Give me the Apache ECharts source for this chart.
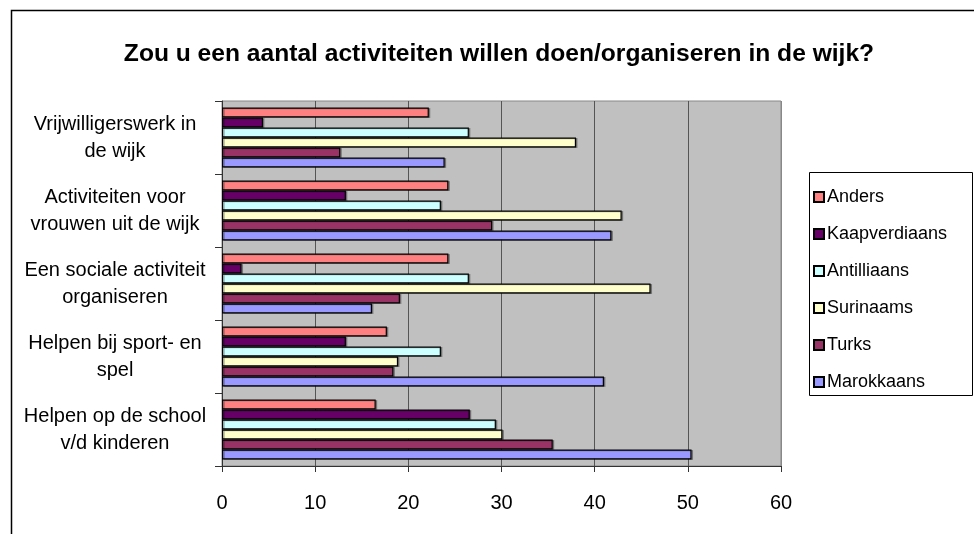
<!DOCTYPE html>
<html>
<head>
<meta charset="utf-8">
<title>Activiteiten in de wijk</title>
<script src="https://cdn.jsdelivr.net/npm/echarts@6/dist/echarts.min.js"></script>
<style>
    html, body { margin: 0; padding: 0; background: #fff; }
    #chart { width: 974px; height: 534px; }
</style>
</head>
<body>
<div id="chart"></div>
<script>
    // categorieen (van boven naar beneden)
    var categories = [
        'Vrijwilligerswerk in\nde wijk',
        'Activiteiten voor\nvrouwen uit de wijk',
        'Een sociale activiteit\norganiseren',
        'Helpen bij sport- en\nspel',
        'Helpen op de school\nv/d kinderen'
    ];
    var anders = [22.2, 24.3, 24.3, 17.7, 16.5];
    var kaapverdiaans = [4.4, 13.3, 2.1, 13.3, 26.6];
    var antilliaans = [26.5, 23.5, 26.5, 23.5, 29.4];
    var surinaams = [38.0, 42.9, 46.0, 18.9, 30.1];
    var turks = [12.7, 29.0, 19.1, 18.4, 35.5];
    var marokkaans = [23.9, 41.8, 16.1, 41.0, 50.4];
    var xTicks = [0, 10, 20, 30, 40, 50, 60];

    var font = "'Liberation Sans', Arial, sans-serif";

    var seriesDefs = [
        { name: 'Anders', data: anders, color: '#FF8080' },
        { name: 'Kaapverdiaans', data: kaapverdiaans, color: '#660066' },
        { name: 'Antilliaans', data: antilliaans, color: '#CCFFFF' },
        { name: 'Surinaams', data: surinaams, color: '#FFFFCC' },
        { name: 'Turks', data: turks, color: '#993366' },
        { name: 'Marokkaans', data: marokkaans, color: '#9999FF' }
    ];

    var chart = echarts.init(document.getElementById('chart'), null, { renderer: 'canvas' });

    var option = {
        animation: false,
        backgroundColor: '#fff',
        textStyle: { fontFamily: font },
        title: {
            text: 'Zou u een aantal activiteiten willen doen/organiseren in de wijk?',
            left: 494,
            top: 37,
            textAlign: 'center',
            textStyle: { fontFamily: font, fontWeight: 'bold', fontSize: 24.6, color: '#000' }
        },
        // kader om de grafiek en de legenda
        graphic: [
            { type: 'rect', left: 9, top: 8, shape: { width: 1000, height: 1000 },
              style: { fill: 'none', stroke: '#000', lineWidth: 1.5 }, silent: true },
            { type: 'rect', left: 809, top: 172, shape: { width: 163, height: 223 },
              style: { fill: '#fff', stroke: '#000', lineWidth: 1 }, silent: true, z: -1 }
        ],
        legend: {
            orient: 'vertical',
            left: 808,
            top: 183,
            itemWidth: 10,
            itemHeight: 10,
            itemGap: 19,
            icon: 'rect',
            data: seriesDefs.map(function (s) { return s.name; }),
            textStyle: { fontFamily: font, fontSize: 18, color: '#000', lineHeight: 18, padding: [0, 0, 0, -2] }
        },
        grid: {
            left: 222,
            right: 193,
            top: 101,
            bottom: 68,
            show: true,
            backgroundColor: '#C0C0C0',
            borderColor: '#888',
            borderWidth: 1
        },
        xAxis: {
            type: 'value',
            min: xTicks[0],
            max: xTicks[xTicks.length - 1],
            interval: 10,
            axisLine: { show: true, lineStyle: { color: '#333', width: 1 } },
            axisTick: { show: true, length: 6, lineStyle: { color: '#333' } },
            axisLabel: { margin: 27, fontFamily: font, fontSize: 20, color: '#000' },
            splitLine: { show: true, lineStyle: { color: ['#555', '#555', '#555', '#555', '#555', '#555', '#888'], width: 1 } }
        },
        yAxis: {
            type: 'category',
            inverse: true,
            data: categories,
            axisLine: { show: true, lineStyle: { color: '#333', width: 1 } },
            axisTick: { show: true, length: 7, lineStyle: { color: '#333' } },
            axisLabel: {
                margin: 107,
                align: 'center',
                fontFamily: font,
                fontSize: 20,
                lineHeight: 27,
                color: '#000'
            }
        },
        series: seriesDefs.map(function (s) {
            return {
                name: s.name,
                type: 'bar',
                data: s.data,
                barGap: '0%',
                barCategoryGap: '18%',
                itemStyle: {
                    color: s.color,
                    borderColor: '#000',
                    borderWidth: 1.2,
                    shadowColor: 'rgba(0,0,0,0.3)',
                    shadowOffsetX: 1.5,
                    shadowOffsetY: 0.5,
                    shadowBlur: 0
                }
            };
        })
    };

    chart.setOption(option);
</script>
</body>
</html>
